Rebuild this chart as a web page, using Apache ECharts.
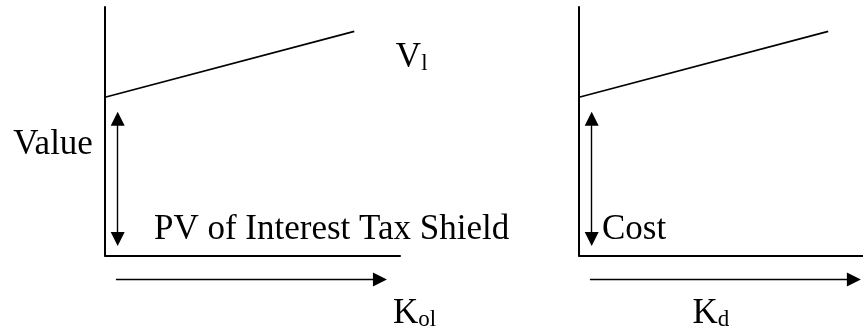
<!DOCTYPE html>
<html>
<head>
<meta charset="utf-8">
<script src="https://cdn.jsdelivr.net/npm/echarts@6/dist/echarts.min.js"></script>
<style>
html, body { margin: 0; padding: 0; background: #fff; }
#main { width: 863px; height: 334px; }
</style>
</head>
<body>
<div id="main"></div>
<script>
var dom = document.getElementById('main');
var myChart = echarts.init(dom, null, {
  renderer: 'canvas',
  useDirtyRect: false
});

// both panels use the same scale; the right one is cut by the page edge
var xMax = [10, 9.63];
var lineX = [0, 8.45];
var lineY = [6.37, 9.02];

// double arrow next to the y axis (ends are arrow-head centres)
var spanArrowX = 0.43;
var spanArrowY = [0.66, 5.5];

// direction arrow under the x axis
var dirArrowX = [0.37, 9.32];
var dirArrowY = -0.97;

// text: [label, x, y, align]
var leftTexts = [
  ['Value', -0.41, 4.46, 'right'],
  ['PV of Interest Tax Shield', 1.66, 1.03, 'left'],
  ['{m|V}{s|l}', 9.86, 7.95, 'left'],
  ['{m|K}{s|ol}', 9.76, -2.35, 'left']
];
var rightTexts = [
  ['Cost', 0.78, 1.03, 'left'],
  ['{m|K}{s|d}', 3.85, -2.35, 'left']
];

var font = 'Liberation Serif';

function axis(max) {
  return {
    type: 'value',
    min: 0,
    max: max,
    axisLine: { show: true, onZero: true, lineStyle: { color: '#000', width: 2 } },
    axisTick: { show: false },
    axisLabel: { show: false },
    splitLine: { show: false }
  };
}

function panelSeries(idx, texts) {
  var pts = lineX.map(function (x, i) { return [x, lineY[i]]; });
  return [
    {
      type: 'line',
      xAxisIndex: idx,
      yAxisIndex: idx,
      data: pts,
      showSymbol: false,
      symbol: 'none',
      lineStyle: { color: '#000', width: 1.6 }
    },
    {
      type: 'lines',
      coordinateSystem: 'cartesian2d',
      xAxisIndex: idx,
      yAxisIndex: idx,
      clip: false,
      symbol: ['triangle', 'triangle'],
      symbolSize: 14,
      lineStyle: { color: '#000', width: 1.4, opacity: 1 },
      data: [{ coords: [[spanArrowX, spanArrowY[1]], [spanArrowX, spanArrowY[0]]] }]
    },
    {
      type: 'lines',
      coordinateSystem: 'cartesian2d',
      xAxisIndex: idx,
      yAxisIndex: idx,
      clip: false,
      symbol: ['none', 'triangle'],
      symbolSize: 14,
      lineStyle: { color: '#000', width: 1.4, opacity: 1 },
      data: [{ coords: [[dirArrowX[0], dirArrowY], [dirArrowX[1], dirArrowY]] }]
    },
    {
      type: 'scatter',
      xAxisIndex: idx,
      yAxisIndex: idx,
      clip: false,
      symbolSize: 0,
      itemStyle: { opacity: 1 },
      label: {
        show: true,
        position: 'inside',
        verticalAlign: 'middle',
        color: '#000',
        opacity: 1,
        textBorderWidth: 0,
        fontFamily: font,
        fontSize: 35,
        formatter: function (p) { return p.name; },
        rich: {
          m: { fontFamily: font, fontSize: 35, lineHeight: 35, verticalAlign: 'bottom', color: '#000' },
          s: { fontFamily: font, fontSize: 23, lineHeight: 13, verticalAlign: 'bottom', color: '#000' }
        }
      },
      data: texts.map(function (t) {
        return { name: t[0], value: [t[1], t[2]], label: { align: t[3] } };
      })
    }
  ];
}

var option = {
  animation: false,
  backgroundColor: '#fff',
  grid: [
    { left: 105, top: 7, width: 295, height: 248.5 },
    { left: 579, top: 7, width: 284, height: 248.5 }
  ],
  xAxis: [Object.assign(axis(xMax[0]), { gridIndex: 0 }), Object.assign(axis(xMax[1]), { gridIndex: 1 })],
  yAxis: [Object.assign(axis(10), { gridIndex: 0 }), Object.assign(axis(10), { gridIndex: 1 })],
  series: panelSeries(0, leftTexts).concat(panelSeries(1, rightTexts))
};

myChart.setOption(option);

window.addEventListener('resize', myChart.resize);
</script>
</body>
</html>
